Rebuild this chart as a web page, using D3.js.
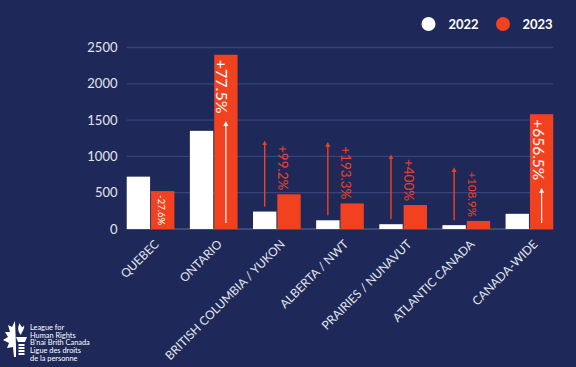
<!DOCTYPE html>
<html><head><meta charset="utf-8">
<script src="https://cdn.jsdelivr.net/npm/d3@7"></script>
<style>
html,body{margin:0;padding:0;background:#1d2857;}
svg{display:block;}
text{font-family:Lato,"Open Sans",sans-serif;}
</style></head><body>
<svg id="c" width="576" height="367"></svg>
<script>
// ---- data ----
const categories = ["QUEBEC","ONTARIO","BRITISH COLUMBIA / YUKON","ALBERTA / NWT","PRAIRIES / NUNAVUT","ATLANTIC CANADA","CANADA-WIDE"];
const series = ["2022","2023"];
const values2022 = [721, 1352, 240, 120, 66, 53, 209];
const values2023 = [522, 2400, 478, 352, 330, 111, 1581];
const changeLabels = ["-27.6%","+77.5%","+99.2%","+193.3%","+400%","+108.9%","+656.5%"];
const yTicks = [0, 500, 1000, 1500, 2000, 2500];
const logoLines = ["League for","Human Rights","B'nai Brith Canada","Ligue des droits","de la personne"];

// ---- style ----
const BG = "#1e2959", RED = "#f2411f", WHITE = "#ffffff", GRID = "#37437a", TXT = "#e3e6ee";
const labelMode = ["inside-small","inside","outside","outside","outside","outside","inside"];
const labelSize = [9.5, 16, 13.5, 13.5, 13.5, 11.5, 15.5];

const svg = d3.select("#c");
svg.append("rect").attr("width",576).attr("height",367).attr("fill",BG);

const x0 = d3.scaleBand().domain(categories).range([119, 561]).paddingInner(0.245).paddingOuter(0.1225);
const x1 = d3.scaleBand().domain(series).range([0, x0.bandwidth()]).paddingInner(0.04);
const y = d3.scaleLinear().domain([0, 2500]).range([229, 47.5]);
const plotL = x0(categories[0]), plotR = x0(categories[6]) + x0.bandwidth();

svg.append("defs").html(
 `<marker id="ar" viewBox="0 0 10 10" refX="5" refY="5" markerWidth="5" markerHeight="6" orient="auto-start-reverse" markerUnits="userSpaceOnUse"><path d="M0,0L10,5L0,10Z" fill="${RED}"/></marker>
  <marker id="aw" viewBox="0 0 10 10" refX="5" refY="5" markerWidth="5" markerHeight="6" orient="auto-start-reverse" markerUnits="userSpaceOnUse"><path d="M0,0L10,5L0,10Z" fill="${WHITE}"/></marker>`);

// grid
svg.append("g").selectAll("line").data(yTicks).join("line")
  .attr("x1", plotL).attr("x2", plotR)
  .attr("y1", d => y(d)).attr("y2", d => y(d))
  .attr("stroke", d => d === 0 ? "#4a5688" : GRID).attr("stroke-width", 1.3);

// y axis labels
const yAxis = d3.axisLeft(y).tickValues(yTicks).tickSize(0).tickPadding(0).tickFormat(d3.format("d"));
const ya = svg.append("g").attr("transform","translate(117.5,0)").call(yAxis);
ya.select(".domain").remove();
ya.selectAll("text").attr("fill", TXT).attr("font-size", 13).style("font-family","Lato,sans-serif");

// bars
const groups = svg.append("g").selectAll("g").data(categories).join("g")
  .attr("transform", d => `translate(${x0(d)},0)`);
groups.append("rect").attr("x", x1("2022")).attr("width", x1.bandwidth())
  .attr("y", (d,i) => y(values2022[i])).attr("height", (d,i) => y(0) - y(values2022[i])).attr("fill", WHITE);
groups.append("rect").attr("x", x1("2023")).attr("width", x1.bandwidth())
  .attr("y", (d,i) => y(values2023[i])).attr("height", (d,i) => y(0) - y(values2023[i])).attr("fill", RED);

// annotations
categories.forEach((c,i) => {
  const mode = labelMode[i];
  const wx = x0(c) + x1("2022") + x1.bandwidth()/2;
  const rx = x0(c) + x1("2023") + x1.bandwidth()/2;
  const rTop = y(values2023[i]);
  if (mode === "outside") {
    const tx = rx - 6;
    const t = svg.append("text").attr("transform", `translate(${tx},${rTop - 4}) rotate(90)`)
      .attr("text-anchor","end").attr("dominant-baseline","central")
      .attr("fill", RED).attr("font-size", labelSize[i]).text(changeLabels[i]);
    const len = t.node().getComputedTextLength();
    const top = rTop - 4 - len - 5;
    svg.append("line").attr("x1", wx).attr("x2", wx)
      .attr("y1", y(values2022[i]) - 5).attr("y2", top + 3)
      .attr("stroke", RED).attr("stroke-width", 1.4).attr("marker-end","url(#ar)");
  } else if (mode === "inside") {
    const t = svg.append("text").attr("transform", `translate(${rx - 3},${rTop + 5}) rotate(90)`)
      .attr("text-anchor","start").attr("dominant-baseline","central")
      .attr("fill", WHITE).attr("font-size", labelSize[i]).text(changeLabels[i]);
    const len = t.node().getComputedTextLength();
    svg.append("line").attr("x1", rx).attr("x2", rx)
      .attr("y1", y(0) - 6).attr("y2", rTop + 5 + len + 10)
      .attr("stroke", WHITE).attr("stroke-width", 1.2).attr("marker-end","url(#aw)");
  } else {
    svg.append("text").attr("transform", `translate(${rx - 1},${rTop + 4}) rotate(90)`)
      .attr("text-anchor","start").attr("dominant-baseline","central")
      .attr("fill", WHITE).attr("font-size", labelSize[i]).text(changeLabels[i]);
  }
});

// x axis labels
const xa = svg.append("g").attr("transform", `translate(0,${y(0)})`)
  .call(d3.axisBottom(x0).tickSize(0).tickPadding(0));
xa.select(".domain").remove();
xa.selectAll("text").attr("fill", TXT).attr("font-size", 12).style("font-family","Lato,sans-serif")
  .attr("text-anchor","end").attr("dy", 0)
  .attr("transform","translate(9,16) rotate(-45)");

// legend
const leg = svg.append("g");
[["2022", WHITE, 428.5, 448.5],["2023", RED, 503, 522.5]].forEach(([lab,col,cx,tx]) => {
  leg.append("circle").attr("cx", cx).attr("cy", 24).attr("r", 7).attr("fill", col);
  leg.append("text").attr("x", tx).attr("y", 24).attr("dominant-baseline","central")
    .attr("fill", WHITE).attr("font-size", 13).attr("font-weight", 700).text(lab);
});

// logo
const lg = svg.append("g");
lg.append("path").attr("fill", WHITE).attr("d",
 "M15,321 L12,327 L8,325 L10,332 L5,332 L8,337 L3,340 L9,343 L7,348 L13,347 L14,357 L16,357 L16,346 Z");
lg.append("path").attr("fill", WHITE).attr("d",
 "M20,323 C17,327 18,332 21,335 C22,331 25,329 24,325 C23,328 22,328 20,324 Z");
lg.append("path").attr("fill", WHITE).attr("d","M16,337 L27,337 L25,342 L18,342 Z");
[344,347,350,353].forEach(yy => lg.append("rect").attr("x",18.5).attr("y",yy).attr("width",6).attr("height",2).attr("fill",WHITE));
lg.selectAll("text.lg").data(logoLines).join("text")
  .attr("x", 30).attr("y", (d,i) => 330 + i*7.7)
  .attr("fill", WHITE).attr("font-size", 7.4).text(d => d);
</script>
</body></html>
